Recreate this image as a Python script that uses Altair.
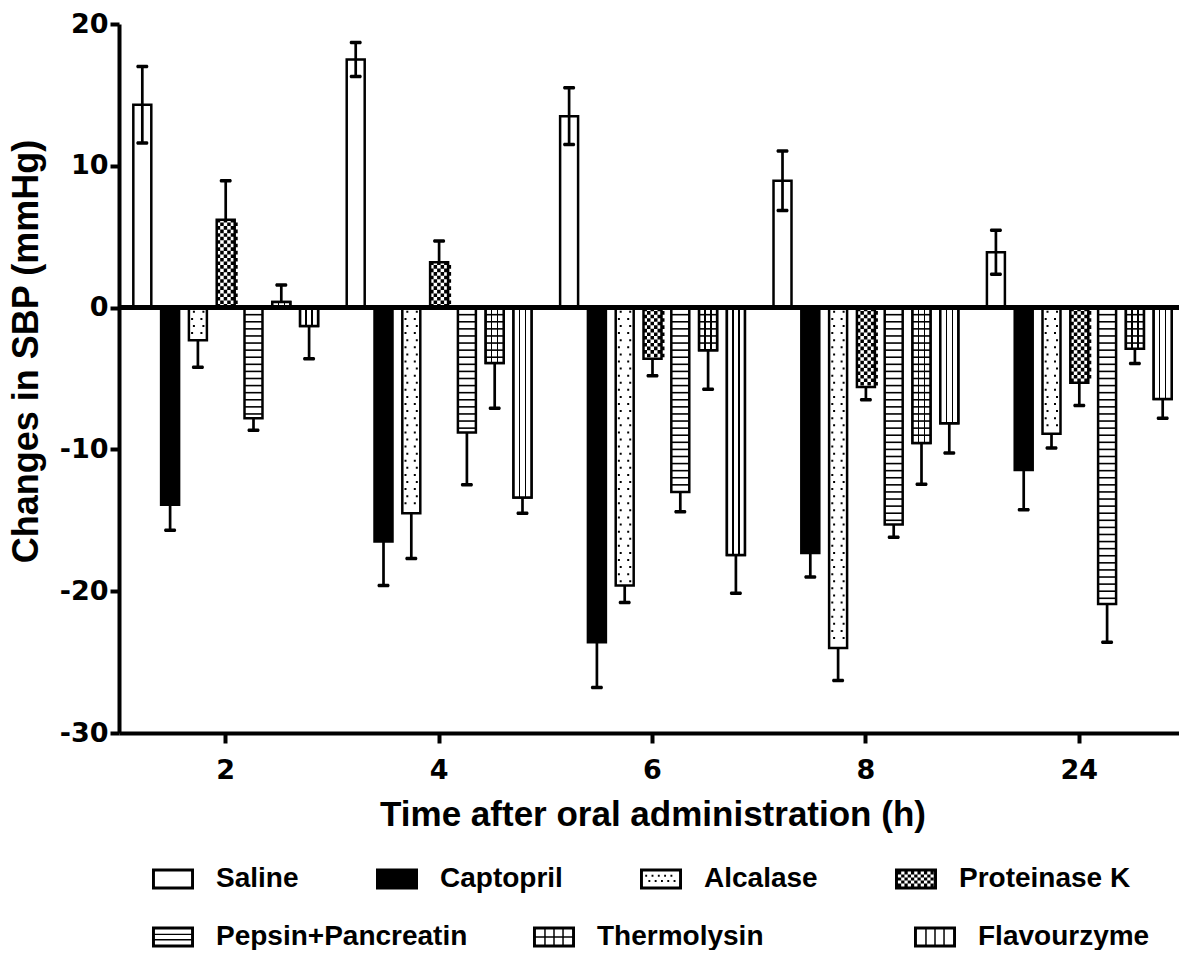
import altair as alt
import pandas as pd

# ---------------- data ----------------
times = ["2", "4", "6", "8", "24"]
treatments = ["Saline", "Captopril", "Alcalase", "Proteinase K",
              "Pepsin+Pancreatin", "Thermolysin", "Flavourzyme"]

saline_mean = [14.3, 17.5, 13.5, 8.95, 3.9]
saline_err = [2.7, 1.2, 2.0, 2.1, 1.55]
captopril_mean = [-13.9, -16.5, -23.6, -17.3, -11.45]
captopril_err = [1.8, 3.1, 3.2, 1.7, 2.8]
alcalase_mean = [-2.3, -14.5, -19.6, -24.0, -8.9]
alcalase_err = [1.9, 3.2, 1.2, 2.3, 1.0]
proteinase_mean = [6.2, 3.2, -3.6, -5.6, -5.3]
proteinase_err = [2.75, 1.5, 1.2, 0.9, 1.6]
pepsin_mean = [-7.8, -8.8, -13.0, -15.3, -20.9]
pepsin_err = [0.85, 3.7, 1.4, 0.9, 2.7]
thermolysin_mean = [0.4, -3.9, -3.0, -9.55, -2.9]
thermolysin_err = [1.2, 3.2, 2.75, 2.9, 1.05]
flavourzyme_mean = [-1.3, -13.4, -17.45, -8.15, -6.45]
flavourzyme_err = [2.3, 1.1, 2.7, 2.1, 1.35]

means = [saline_mean, captopril_mean, alcalase_mean, proteinase_mean,
         pepsin_mean, thermolysin_mean, flavourzyme_mean]
errs = [saline_err, captopril_err, alcalase_err, proteinase_err,
        pepsin_err, thermolysin_err, flavourzyme_err]

legend_row1 = treatments[:4]
legend_row2 = treatments[4:]

# ---------------- tables ----------------
rows, caps = [], []
for t, m_list, e_list in zip(treatments, means, errs):
    for time, m, e in zip(times, m_list, e_list):
        if t == "Saline":
            lo, hi = m - e, m + e
            caps += [{"time": time, "treatment": t, "cap": lo},
                     {"time": time, "treatment": t, "cap": hi}]
        else:
            d = 1 if m >= 0 else -1
            lo, hi = m, m + d * e
            caps.append({"time": time, "treatment": t, "cap": hi})
        rows.append({"time": time, "treatment": t, "mean": m, "err": e,
                     "lo": lo, "hi": hi})
bars_df = pd.DataFrame(rows)
caps_df = pd.DataFrame(caps)

# ---------------- encodings ----------------
FONT = "Liberation Sans"
TICKFONT = "DejaVu Sans"
xaxis = alt.Axis(title="Time after oral administration (h)", labelAngle=0,
                 tickSize=10, tickWidth=4, domainWidth=4, labelFont=TICKFONT,
                 labelFontSize=27, labelFontWeight="bold", labelPadding=14,
                 titleFontSize=35, titleFontWeight="bold", titlePadding=14, grid=False,
                 domainColor="black", tickColor="black", labelColor="black",
                 titleColor="black")
yaxis = alt.Axis(title="Changes in SBP (mmHg)", values=[-30, -20, -10, 0, 10, 20],
                 labelExpr="'' + datum.value", labelFont=TICKFONT,
                 tickSize=9, tickWidth=4, domainWidth=4, labelFontSize=27,
                 labelFontWeight="bold", labelPadding=2, titleFontSize=36,
                 titleFontWeight="bold", titlePadding=14, titleY=327, grid=False,
                 domainColor="black", tickColor="black", labelColor="black",
                 titleColor="black")

xscale = alt.Scale(domain=times, range=[0, 1067], paddingInner=0, paddingOuter=0)
yscale = alt.Scale(domain=[-30, 20], nice=False, zero=False)
X = alt.X("time:N", sort=times, scale=xscale, axis=xaxis)
XO = alt.XOffset("treatment:N", sort=treatments,
                 scale=alt.Scale(domain=treatments, paddingInner=0.353, paddingOuter=0.515))


def Y(field):
    return alt.Y(field, scale=yscale, axis=yaxis)


# ---------------- bars ----------------
base_bars = alt.Chart(bars_df).mark_bar(stroke="black", strokeWidth=2.5).encode(
    x=X, xOffset=XO, y=Y("mean:Q"),
    fill=alt.condition("datum.treatment === 'Captopril'", alt.value("black"), alt.value("white")),
)

vstops = [(0, "white"), (0.29, "white"), (0.29, "black"), (0.375, "black"),
          (0.375, "white"), (0.625, "white"), (0.625, "black"), (0.71, "black"),
          (0.71, "white"), (1, "white")]
vgrad = alt.LinearGradient(gradient="linear", x1=0, x2=1, y1=0, y2=0,
                           stops=[alt.GradientStop(offset=o, color=c) for o, c in vstops])
vline_bars = alt.Chart(bars_df).transform_filter(
    "datum.treatment === 'Thermolysin' || datum.treatment === 'Flavourzyme'"
).mark_bar(fill=vgrad, stroke="black", strokeWidth=2.5).encode(
    x=X, xOffset=XO, y=Y("mean:Q"))


def rect(x0, y0, w, h):
    return f"M{x0:.3f},{y0:.3f}h{w:.3f}v{h:.3f}h{-w:.3f}Z"


# pattern row shapes (unit = 10 px at size 400)
hline_path = rect(-0.9, -0.08, 1.8, 0.16)
dots_a = rect(-0.5, -0.1, 0.2, 0.2) + rect(0.45, -0.1, 0.2, 0.2)
dots_b = rect(-0.68, -0.1, 0.2, 0.2) + rect(0.25, -0.1, 0.2, 0.2)
chk_a = "".join(rect(-0.9 + 0.7 * i, -0.18, 0.35, 0.36) for i in range(3))
chk_b = "".join(rect(-0.55 + 0.7 * i, -0.18, 0.35, 0.36) for i in range(3))


def rows_layer(names, step, start, path, parity=None, margin=0.15):
    sel = " || ".join(f"datum.treatment === '{n}'" for n in names)
    ch = alt.Chart(bars_df).transform_filter(sel).transform_calculate(
        k=f"sequence(0, ceil(abs(datum.mean) / {step}) + 1)"
    ).transform_flatten(["k"]).transform_calculate(
        pos=f"(datum.k + {start}) * {step}"
    ).transform_filter(f"datum.pos < abs(datum.mean) - {margin}")
    if parity is not None:
        ch = ch.transform_filter(f"datum.k % 2 === {parity}")
    ch = ch.transform_calculate(ry="datum.mean < 0 ? -datum.pos : datum.pos")
    return ch.mark_point(shape=path, size=400, filled=True, color="black",
                         opacity=1, strokeWidth=0).encode(x=X, xOffset=XO, y=Y("ry:Q"))


hlines = rows_layer(["Pepsin+Pancreatin", "Thermolysin"], 0.5, 1, hline_path, margin=0.2)
dots1 = rows_layer(["Alcalase"], 0.5, 0.6, dots_a, parity=0, margin=0.2)
dots2 = rows_layer(["Alcalase"], 0.5, 0.6, dots_b, parity=1, margin=0.2)
chk1 = rows_layer(["Proteinase K"], 0.25, 0.5, chk_a, parity=0, margin=0.06)
chk2 = rows_layer(["Proteinase K"], 0.25, 0.5, chk_b, parity=1, margin=0.06)

# ---------------- zero line & error bars ----------------
zero_line = alt.Chart(bars_df).mark_rule(strokeWidth=4, color="black").encode(y=alt.datum(0))

err_rules = alt.Chart(bars_df).mark_rule(strokeWidth=2.7, color="black").encode(
    x=X, xOffset=XO, y=Y("lo:Q"), y2="hi:Q")
err_caps = alt.Chart(caps_df).mark_tick(thickness=3.5, size=12, color="black",
                                        opacity=1, cornerRadius=1.5).encode(
    x=X, xOffset=XO, y=Y("cap:Q"))

# ---------------- legends ----------------
ring = "M-1,-0.5H1V0.5H-1Z M-0.86,-0.36V0.36H0.86V-0.36Z"
full = "M-1,-0.5H1V0.5H-1Z"
leg_dots = ring + "".join(rect(-0.75 + 0.3 * i + (0.15 if j else 0), -0.2 + 0.25 * j, 0.09, 0.09)
                          for j in range(2) for i in range(5))
leg_chk = ring + "".join(rect(-0.86 + 0.155 * i, -0.36 + 0.145 * j, 0.155, 0.145)
                         for j in range(5) for i in range(12) if (i + j) % 2 == 0)
leg_hl = ring + rect(-0.86, -0.16, 1.72, 0.07) + rect(-0.86, 0.1, 1.72, 0.07)
leg_grid = ring + rect(-0.86, -0.035, 1.72, 0.07) + "".join(
    rect(x - 0.035, -0.36, 0.07, 0.72) for x in (-0.43, 0, 0.43))
leg_vl = ring + "".join(rect(x - 0.035, -0.36, 0.07, 0.72) for x in (-0.43, 0, 0.43))

paths1 = [ring, full, leg_dots, leg_chk]
paths2 = [leg_hl, leg_grid, leg_vl]

common_leg = dict(title=None, orient="none", direction="horizontal", symbolSize=1764,
                  symbolStrokeWidth=0, symbolFillColor="black", symbolOpacity=1,
                  labelFont=FONT, labelFontSize=28, labelFontWeight="bold",
                  labelColor="black", labelOffset=22, labelLimit=500, padding=0)

legend1 = alt.Chart(bars_df).transform_filter("false").mark_point(
    filled=True, color="black", opacity=1, strokeWidth=0).encode(
    shape=alt.Shape("treatment:N", scale=alt.Scale(domain=legend_row1, range=paths1),
                    legend=alt.Legend(legendX=33, legendY=834, columns=4, gridAlign="none",
                                      columnPadding=77, **common_leg)))
legend2 = alt.Chart(bars_df).transform_filter("false").mark_point(
    filled=True, color="black", opacity=1, strokeWidth=0).encode(
    shape=alt.Shape("treatment:N", scale=alt.Scale(domain=legend_row2, range=paths2),
                    legend=alt.Legend(legendX=33, legendY=892, columns=3, gridAlign="all",
                                      columnPadding=65, **common_leg)))

chart = alt.layer(
    base_bars, vline_bars, hlines, dots1, dots2, chk1, chk2,
    zero_line, err_rules, err_caps, legend1, legend2,
).resolve_scale(shape="independent").resolve_legend(shape="independent").properties(
    width=1060, height=709,
    autosize=alt.AutoSizeParams(type="none"),
    padding={"left": 119, "top": 24, "right": 0, "bottom": 217},
).configure(font=FONT).configure_view(strokeWidth=0)

chart.save("out.html", embed_options={"renderer": "svg", "actions": False})
